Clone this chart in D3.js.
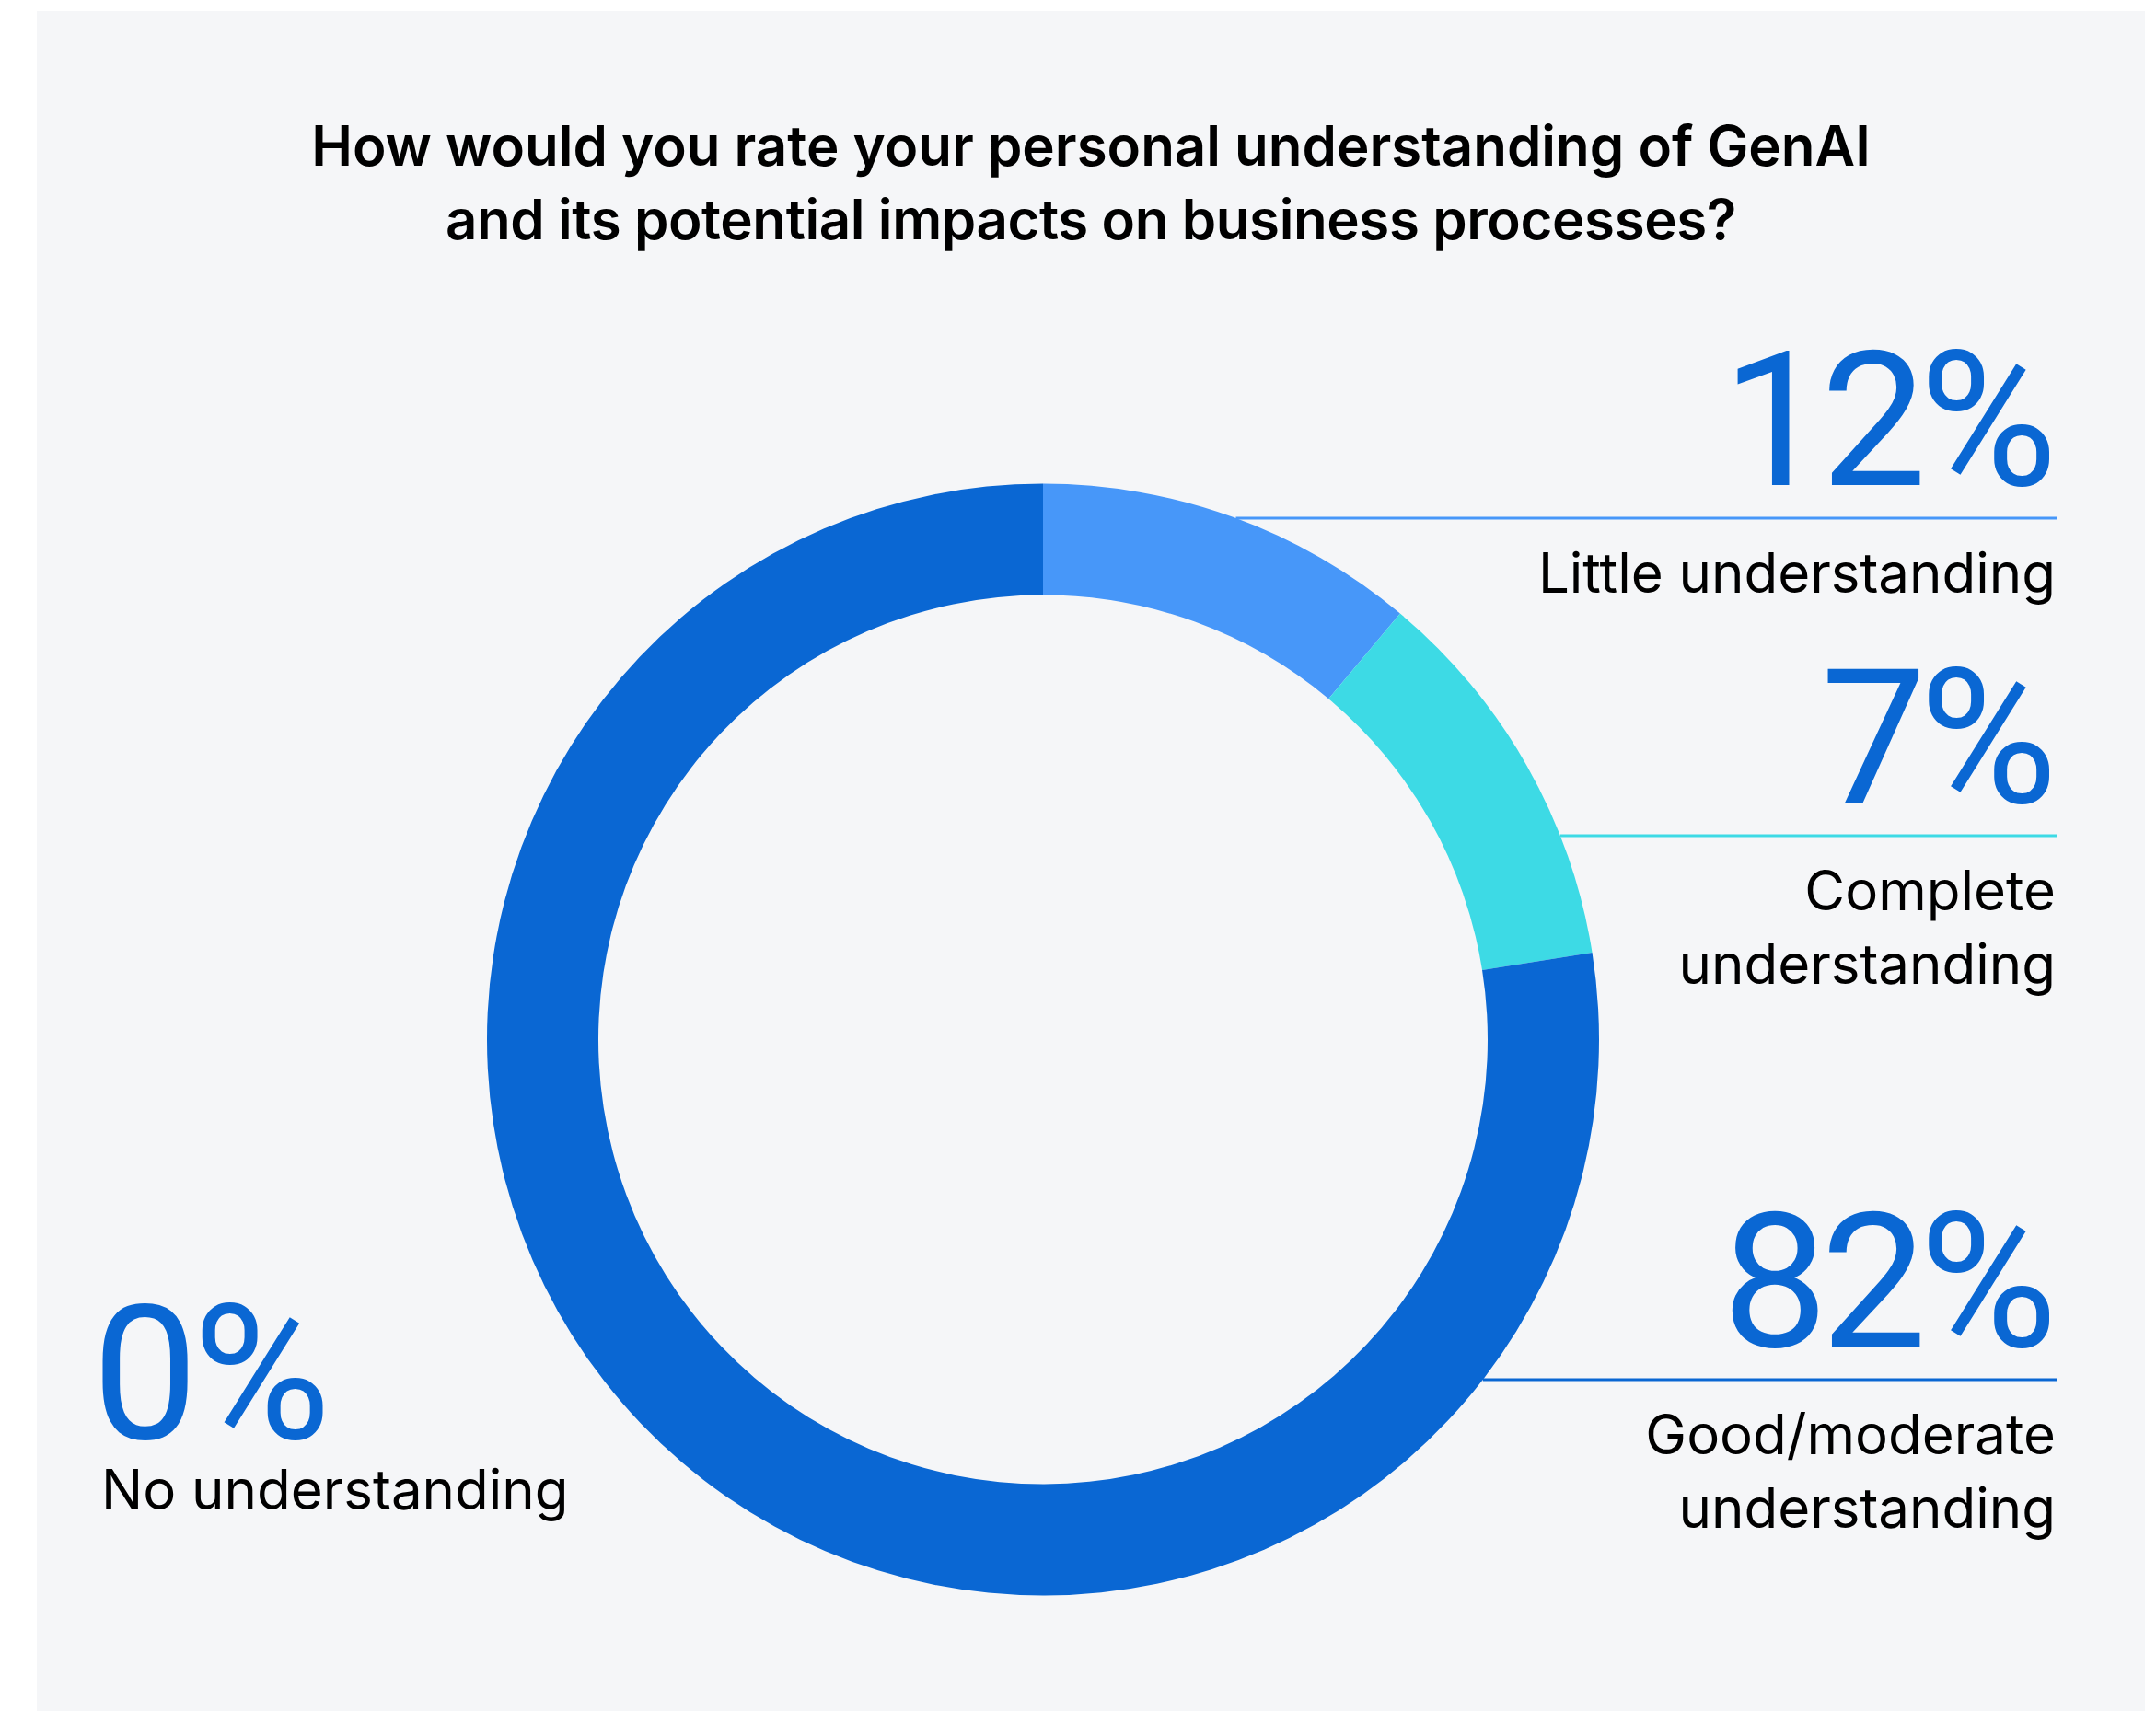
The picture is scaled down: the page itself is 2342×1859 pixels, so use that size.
<!DOCTYPE html>
<html lang="en">
<head>
<meta charset="UTF-8">
<title>GenAI understanding</title>
<script src="https://d3js.org/d3.v7.min.js"></script>
<style>
  body { margin: 0; background: #ffffff; }
  svg { display: block; }
</style>
</head>
<body>
<script>
    // categories, in drawing order (clockwise from 12 o'clock)
    const categories = ["Little understanding", "Complete understanding", "Good/moderate understanding", "No understanding"];
    // percentages printed next to the ring
    const pctLabels = [12, 7, 82, 0];
    // share of the ring each segment actually covers in the picture
    const arcValues = [11.1, 11.4, 77.5, 0];
    const colors = ["#4797f9", "#3ddae5", "#0a67d3", "#0a67d3"];
    const titleLines = ["How would you rate your personal understanding of GenAI", "and its potential impacts on business processes?"];

    const W = 2342, H = 1859;
    const cx = 1133, cy = 1129.5, R = 604, r = 483;
    const pctFont = "Roboto, sans-serif";

    const svg = d3.select("body").append("svg")
        .attr("width", W)
        .attr("height", H);

    // panel
    svg.append("rect")
        .attr("x", 40).attr("y", 12)
        .attr("width", 2290).attr("height", H - 12)
        .attr("fill", "#f5f6f8");

    // title
    svg.append("g").selectAll("text")
        .data(titleLines)
        .join("text")
        .attr("x", 1185)
        .attr("y", (d, i) => 180 + i * 80)
        .attr("text-anchor", "middle")
        .attr("font-family", "Inter, sans-serif")
        .attr("font-weight", 600)
        .attr("font-size", 60)
        .attr("letter-spacing", (d, i) => i ? -0.4 : 0)
        .attr("fill", "#000")
        .text(d => d);

    // donut
    const pie = d3.pie().sort(null).value(d => d.v).startAngle(0).endAngle(2 * Math.PI);
    const arc = d3.arc().innerRadius(r).outerRadius(R);
    const slices = pie(arcValues.map((v, i) => ({ v: v, i: i })));

    svg.append("g")
        .attr("transform", `translate(${cx},${cy})`)
        .selectAll("path")
        .data(slices.filter(s => s.data.v > 0))
        .join("path")
        .attr("d", arc)
        .attr("fill", d => colors[d.data.i]);

    // labels on the right: leader line y, then percent above and text below
    const right = 2235;
    const rightLabels = [
        { i: 0, lineY: 563, lines: ["Little understanding"] },
        { i: 1, lineY: 908, lines: ["Complete", "understanding"] },
        { i: 2, lineY: 1499, lines: ["Good/moderate", "understanding"] }
    ];

    rightLabels.forEach(lab => {
        const dy = lab.lineY - cy;
        const x0 = cx + Math.sqrt(R * R - dy * dy);
        svg.append("line")
            .attr("x1", x0).attr("x2", right)
            .attr("y1", lab.lineY).attr("y2", lab.lineY)
            .attr("stroke", colors[lab.i])
            .attr("stroke-width", 3);

        svg.append("text")
            .attr("x", right - 8)
            .attr("y", lab.lineY - 36)
            .attr("text-anchor", "end")
            .attr("font-family", pctFont)
            .attr("font-weight", 400)
            .attr("font-size", 205)
            .attr("letter-spacing", -8)
            .attr("fill", "#0a67d3")
            .text(pctLabels[lab.i] + "%");

        svg.append("g").selectAll("text")
            .data(lab.lines)
            .join("text")
            .attr("x", right - 2)
            .attr("y", (d, k) => lab.lineY + 81 + k * 80)
            .attr("text-anchor", "end")
            .attr("font-family", "Inter, sans-serif")
            .attr("font-size", 60)
            .attr("fill", "#000")
            .text(d => d);
    });

    // left label: No understanding
    svg.append("text")
        .attr("x", 100)
        .attr("y", 1563)
        .attr("font-family", pctFont)
        .attr("font-weight", 400)
        .attr("font-size", 205)
        .attr("letter-spacing", -6)
        .attr("fill", "#0a67d3")
        .text(pctLabels[3] + "%");

    svg.append("text")
        .attr("x", 110)
        .attr("y", 1640)
        .attr("font-family", "Inter, sans-serif")
        .attr("font-size", 60)
        .attr("fill", "#000")
        .text(categories[3]);
</script>
</body>
</html>
